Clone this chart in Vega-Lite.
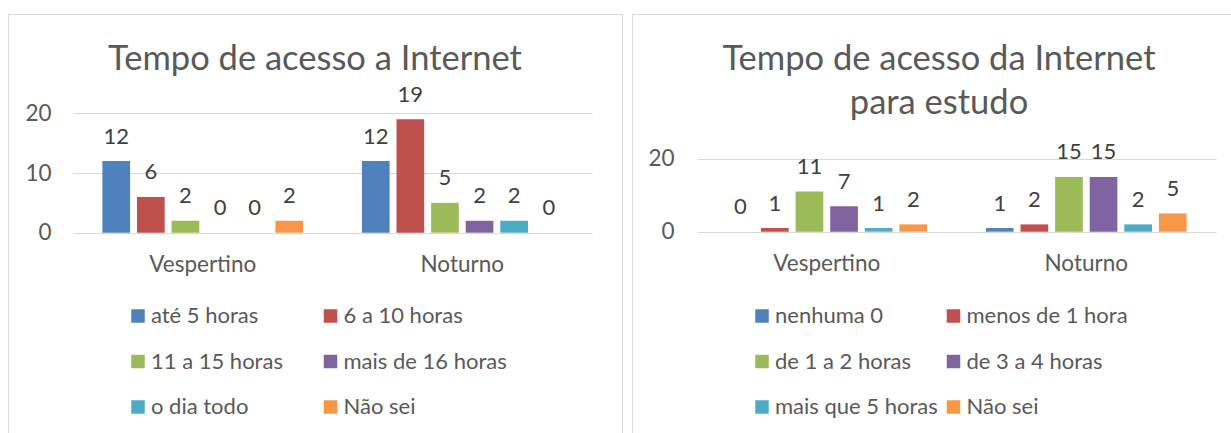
{
  "$schema": "https://vega.github.io/schema/vega-lite/v6.json",
  "padding": {"left": 7, "top": 13, "right": 0, "bottom": 0},
  "spacing": 8,
  "background": "#ffffff",
  "config": {
    "font": "Lato",
    "view": {"stroke": "#d9d9d9", "strokeWidth": 1},
    "axis": {"labelFont": "Lato", "labelFontSize": 22.5, "labelColor": "#595959", "domain": false, "ticks": false, "labelPadding": 0},
    "axisX": {"grid": false, "labelAngle": 0, "labelBaseline": "alphabetic", "labelPadding": 38.5},
    "axisY": {"grid": true, "gridColor": "#d9d9d9", "gridWidth": 1, "labelBaseline": "middle"},
    "legend": {
      "orient": "none", "legendX": 119, "legendY": 291, "columns": 2, "direction": "horizontal", "gridAlign": "all",
      "columnPadding": 4.5, "rowPadding": 23.5, "symbolType": "square", "symbolSize": 182,
      "symbolStrokeWidth": 0, "labelOffset": 2, "labelFont": "Lato", "labelFontSize": 22,
      "labelColor": "#595959", "padding": 0, "labelLimit": 400
    },
    "title": {"font": "Lato", "fontSize": 34.5, "fontWeight": "normal", "color": "#595959", "anchor": "middle", "frame": "group", "baseline": "bottom", "lineHeight": 44}
  },
  "resolve": {"scale": {"x": "independent", "y": "independent", "xOffset": "independent", "color": "independent"}, "legend": {"color": "independent"}},
  "hconcat": [
    {
      "width": 614,
      "height": 430,
      "title": {"text": "Tempo de acesso a Internet", "offset": -63},
      "data": {"values": [
        {"turno": "Vespertino", "cat": "até 5 horas", "v": 12},
        {"turno": "Vespertino", "cat": "6 a 10 horas", "v": 6},
        {"turno": "Vespertino", "cat": "11 a 15 horas", "v": 2},
        {"turno": "Vespertino", "cat": "mais de 16 horas", "v": 0},
        {"turno": "Vespertino", "cat": "o dia todo", "v": 0},
        {"turno": "Vespertino", "cat": "Não sei", "v": 2},
        {"turno": "Noturno", "cat": "até 5 horas", "v": 12},
        {"turno": "Noturno", "cat": "6 a 10 horas", "v": 19},
        {"turno": "Noturno", "cat": "11 a 15 horas", "v": 5},
        {"turno": "Noturno", "cat": "mais de 16 horas", "v": 2},
        {"turno": "Noturno", "cat": "o dia todo", "v": 2},
        {"turno": "Noturno", "cat": "Não sei", "v": 0}
      ]},
      "encoding": {
        "x": {"field": "turno", "type": "nominal", "sort": ["Vespertino", "Noturno"], "title": null,
              "scale": {"range": [65, 584], "paddingInner": 0.2, "paddingOuter": 0.1},
              "axis": {"offset": -211.3}},
        "xOffset": {"field": "cat", "type": "nominal", "sort": ["até 5 horas", "6 a 10 horas", "11 a 15 horas", "mais de 16 horas", "o dia todo", "Não sei"],
                    "scale": {"paddingInner": 0.2, "paddingOuter": 0.1}},
        "y": {"field": "v", "type": "quantitative", "title": null,
              "scale": {"domain": [0, 20], "range": [218.7, 99.3], "nice": false},
              "axis": {"values": [0, 10, 20], "offset": -43}}
      },
      "layer": [
        {
          "mark": {"type": "bar"},
          "encoding": {
            "color": {"field": "cat", "type": "nominal", "title": null,
                      "scale": {"domain": ["até 5 horas", "6 a 10 horas", "11 a 15 horas", "mais de 16 horas", "o dia todo", "Não sei"],
                                "range": ["#4F81BD", "#C0504D", "#9BBB59", "#8064A2", "#4BACC6", "#F79646"]}}
          }
        },
        {
          "mark": {"type": "text", "dy": -17.5, "baseline": "alphabetic", "fontSize": 22, "color": "#404040", "font": "Lato"},
          "encoding": {"text": {"field": "v", "type": "quantitative"}}
        }
      ]
    },
    {
      "width": 614,
      "height": 430,
      "title": {"text": ["Tempo de acesso da Internet", "para estudo"], "offset": -107},
      "data": {"values": [
        {"turno": "Vespertino", "cat": "nenhuma 0", "v": 0},
        {"turno": "Vespertino", "cat": "menos de 1 hora", "v": 1},
        {"turno": "Vespertino", "cat": "de 1 a 2 horas", "v": 11},
        {"turno": "Vespertino", "cat": "de 3 a 4 horas", "v": 7},
        {"turno": "Vespertino", "cat": "mais que 5 horas", "v": 1},
        {"turno": "Vespertino", "cat": "Não sei", "v": 2},
        {"turno": "Noturno", "cat": "nenhuma 0", "v": 1},
        {"turno": "Noturno", "cat": "menos de 1 hora", "v": 2},
        {"turno": "Noturno", "cat": "de 1 a 2 horas", "v": 15},
        {"turno": "Noturno", "cat": "de 3 a 4 horas", "v": 15},
        {"turno": "Noturno", "cat": "mais que 5 horas", "v": 2},
        {"turno": "Noturno", "cat": "Não sei", "v": 5}
      ]},
      "encoding": {
        "x": {"field": "turno", "type": "nominal", "sort": ["Vespertino", "Noturno"], "title": null,
              "scale": {"range": [65, 584], "paddingInner": 0.2, "paddingOuter": 0.1},
              "axis": {"offset": -212.3}},
        "xOffset": {"field": "cat", "type": "nominal", "sort": ["nenhuma 0", "menos de 1 hora", "de 1 a 2 horas", "de 3 a 4 horas", "mais que 5 horas", "Não sei"],
                    "scale": {"paddingInner": 0.2, "paddingOuter": 0.1}},
        "y": {"field": "v", "type": "quantitative", "title": null,
              "scale": {"domain": [0, 20], "range": [217.7, 144.7], "nice": false},
              "axis": {"values": [0, 20], "offset": -42}}
      },
      "layer": [
        {
          "mark": {"type": "bar"},
          "encoding": {
            "color": {"field": "cat", "type": "nominal", "title": null,
                      "scale": {"domain": ["nenhuma 0", "menos de 1 hora", "de 1 a 2 horas", "de 3 a 4 horas", "mais que 5 horas", "Não sei"],
                                "range": ["#4F81BD", "#C0504D", "#9BBB59", "#8064A2", "#4BACC6", "#F79646"]}}
          }
        },
        {
          "mark": {"type": "text", "dy": -17.5, "baseline": "alphabetic", "fontSize": 22, "color": "#404040", "font": "Lato"},
          "encoding": {"text": {"field": "v", "type": "quantitative"}}
        }
      ]
    }
  ]
}
